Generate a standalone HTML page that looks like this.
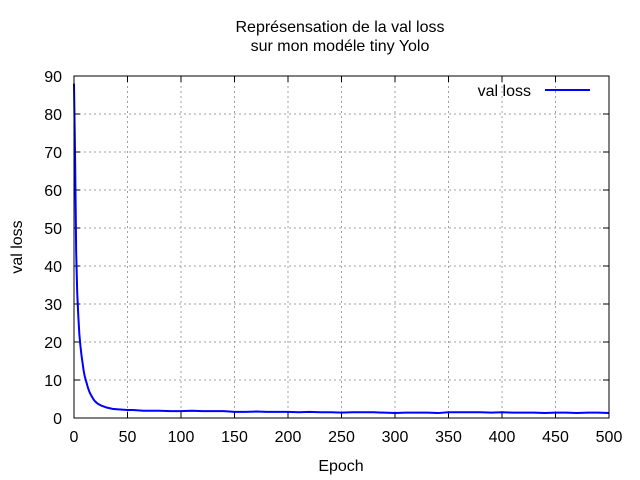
<!DOCTYPE html>
<html><head><meta charset="utf-8"><style>
body{margin:0;background:#fff;}
svg{display:block;font-family:"Liberation Sans",sans-serif;font-size:16px;}
</style></head><body>
<svg id="c" width="640" height="480">
<text x="340" y="32" text-anchor="middle">Représensation de la val loss</text>
<text x="340" y="51" text-anchor="middle">sur mon modéle tiny Yolo</text>
<text x="341" y="471" text-anchor="middle">Epoch</text>
<text transform="translate(22,247) rotate(-90)" text-anchor="middle">val loss</text>
<g id="grid"></g><g id="ticks"></g>
<polyline id="line" fill="none" stroke="#0000ff" stroke-width="2"/>
<rect x="74" y="76" width="535" height="342" fill="none" stroke="#000" stroke-width="1"/>
<g>
<text x="531" y="96" text-anchor="end">val loss</text>
<line x1="545" y1="90" x2="590" y2="90" stroke="#0000ff" stroke-width="2"/>
</g>
</svg>
<script>
const xTicks=[0,50,100,150,200,250,300,350,400,450,500];
const yTicks=[0,10,20,30,40,50,60,70,80,90];
const epochs=[0,1,2,3,4,5,6,7,8,9,10,11,12,13,14,15,16,17,18,19,20,22,24,26,28,30,33,36,40,45,50,55,60,65,70,80,90,100,110,120,130,140,150,160,170,180,190,200,210,220,230,240,250,260,270,280,290,300,310,320,330,340,350,360,370,380,390,400,410,420,430,440,450,460,470,480,490,500];
const loss=[88,69,44,33,27,22,19,16.5,14.5,12.5,11,10,9,8,7.2,6.5,6,5.5,5,4.6,4.3,3.8,3.5,3.2,3.0,2.8,2.6,2.4,2.3,2.2,2.1,2.1,2.0,1.9,1.9,1.9,1.8,1.8,1.9,1.8,1.8,1.8,1.6,1.6,1.7,1.6,1.6,1.6,1.5,1.6,1.5,1.5,1.4,1.5,1.5,1.5,1.4,1.3,1.4,1.4,1.4,1.3,1.5,1.5,1.5,1.5,1.4,1.5,1.4,1.4,1.4,1.3,1.4,1.4,1.3,1.4,1.4,1.3];
const X=v=>74+v*535/500, Y=v=>418-v*342/90;
const ns="http://www.w3.org/2000/svg";
const g=document.getElementById('grid'), t=document.getElementById('ticks');
function mk(tag,a,p){const e=document.createElementNS(ns,tag);for(const k in a)e.setAttribute(k,a[k]);p.appendChild(e);return e;}
xTicks.forEach(v=>{
 if(v>0&&v<500){const l=mk('line',{x1:X(v),x2:X(v),y1:76,y2:418,stroke:'#a0a0a0','stroke-dasharray':'2,3'},g);
 
 }
 const k=mk('line',{x1:X(v),x2:X(v),y1:418,y2:412,stroke:'#000'},t);
 
 
 const k2=mk('line',{x1:X(v),x2:X(v),y1:76,y2:82,stroke:'#000'},t);
 
 
 const s=mk('text',{x:X(v),y:442,'text-anchor':'middle'},t);s.textContent=v;
 
 
});
yTicks.forEach(v=>{
 if(v>0&&v<90){const l=mk('line',{x1:74,x2:609,y1:Y(v),y2:Y(v),stroke:'#a0a0a0','stroke-dasharray':'2,3'},g);
 
 }
 const k=mk('line',{x1:74,x2:80,y1:Y(v),y2:Y(v),stroke:'#000'},t);
 
 
 const k2=mk('line',{x1:603,x2:609,y1:Y(v),y2:Y(v),stroke:'#000'},t);
 
 
 const s=mk('text',{x:62,y:Y(v)+6,'text-anchor':'end'},t);s.textContent=v;
 
 
});
document.getElementById('line').setAttribute('points',epochs.map((e,i)=>X(e)+','+Y(loss[i])).join(' '));
</script>
</body></html>
